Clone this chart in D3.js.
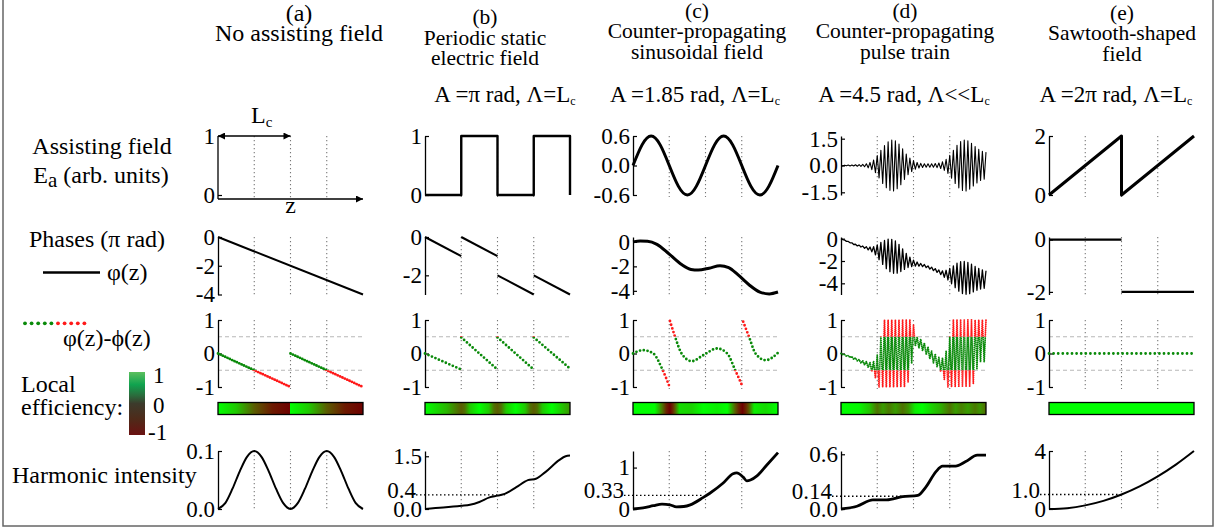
<!DOCTYPE html>
<html>
<head>
<meta charset="utf-8">
<script src="https://cdn.jsdelivr.net/npm/d3@7"></script>
<style>
  body { margin: 0; background: #fff; }
  text { font-family: "Liberation Serif", "Times New Roman", serif; }
</style>
</head>
<body>
<div id="app"></div>
<script>
// ---------- 数据 ----------
const panels = ['a', 'b', 'c', 'd', 'e'];
const titleLetters = ['(a)', '(b)', '(c)', '(d)', '(e)'];
const titleLines = [
  ['No assisting field'],
  ['Periodic static', 'electric field'],
  ['Counter-propagating', 'sinusoidal field'],
  ['Counter-propagating', 'pulse train'],
  ['Sawtooth-shaped', 'field']
];
const paramTexts = [null, 'A =π rad, Λ=L', 'A =1.85 rad, Λ=L', 'A =4.5 rad, Λ<<L', 'A =2π rad, Λ=L'];
const zGuides = [0.5, 1, 1.5];

// 辅助场 (row 1)
const fieldDomains = [[0, 1], [0, 1], [-0.6, 0.6], [-1.65, 1.65], [0, 2]];
const fieldTicks = [[0, 1], [0, 1], [-0.6, 0, 0.6], [-1.5, 0, 1.5], [0, 2]];
const fieldTickLabels = [['0', '1'], ['0', '1'], ['-0.6', '0.0', '0.6'], ['-1.5', '0.0', '1.5'], ['0', '2']];
const fieldB = [[0, 0], [0.5, 0], [0.5, 1], [1, 1], [1, 0], [1.5, 0], [1.5, 1], [2, 1], [2, 0]];
const fieldC = [[0, 0], [0.125, 0.42], [0.25, 0.6], [0.375, 0.42], [0.5, 0], [0.625, -0.42], [0.75, -0.6], [0.875, -0.42],
  [1, 0], [1.125, 0.42], [1.25, 0.6], [1.375, 0.42], [1.5, 0], [1.625, -0.42], [1.75, -0.6], [1.875, -0.42], [2, 0]];
const fieldE = [[0, 0], [1, 2], [1, 0], [2, 2]];
// pulse train: swing of each half-cycle extreme (z step 0.025)
const dz = 0.025;
const dFieldSwing = [0, .02, .02, .02, .03, .03, .03, .03, .04, .04,
  .05, .05, .06, .07, .1, .13, .17, .23, .31, .4,
  .55, .7, .85, 1.0, 1.12, 1.24, 1.33, 1.39, 1.42, 1.42,
  1.38, 1.3, 1.2, 1.07, .93, .78, .64, .52, .42, .34,
  .27, .21, .17, .14, .12, .11, .1, .1, .1, .1,
  .1, .1, .11, .12, .14, .17, .21, .27, .35, .45,
  .57, .71, .85, 1.0, 1.13, 1.25, 1.34, 1.4, 1.42, 1.42,
  1.38, 1.32, 1.24, 1.15, 1.06, .98, .9, .84, .8, .77, .75];

// 相位 (row 2)
const phaseDomains = [[-4, 0], [-3, 0], [-4.3, 0.4], [-5, 0.15], [-2.1, 0.1]];
const phaseTicks = [[-4, -2, 0], [-2, 0], [-4, -2, 0], [-4, -2, 0], [-2, 0]];
const phaseA = [[[0, 0], [2, -4]]];
const phaseB = [[[0, 0], [0.5, -1]], [[0.5, 0], [1, -1]], [[1, -2], [1.5, -3]], [[1.5, -2], [2, -3]]];
const phaseC = [[[0, 0], [0.1, 0.07], [0.2, 0.05], [0.33, -0.2], [0.5, -1.0], [0.67, -1.85], [0.8, -2.25], [0.9, -2.3],
  [1.05, -2.15], [1.2, -1.95], [1.32, -2.1], [1.45, -2.7], [1.6, -3.5], [1.75, -4.1], [1.88, -4.25], [2.0, -4.1]]];
const phaseE = [[[0, 0], [1, 0]], [[1, -2], [2, -2]]];
const dPhaseMid = [0, -.07, -.14, -.21, -.28, -.34, -.41, -.48, -.55, -.6,
  -.64, -.69, -.73, -.78, -.82, -.87, -.92, -.96, -1.01, -1.05,
  -1.1, -1.16, -1.21, -1.27, -1.33, -1.38, -1.44, -1.5, -1.55, -1.61,
  -1.66, -1.72, -1.77, -1.82, -1.88, -1.93, -1.98, -2.04, -2.09, -2.15,
  -2.2, -2.24, -2.27, -2.31, -2.35, -2.38, -2.42, -2.48, -2.55, -2.61,
  -2.67, -2.74, -2.81, -2.88, -2.96, -3.03, -3.11, -3.18, -3.2, -3.23,
  -3.26, -3.29, -3.32, -3.35, -3.38, -3.41, -3.44, -3.47, -3.5, -3.53,
  -3.55, -3.56, -3.57, -3.58, -3.59, -3.6, -3.61, -3.62, -3.63, -3.64, -3.65];
const dPhaseSwing = [0, .02, .02, .03, .03, .03, .04, .04, .05, .05,
  .06, .06, .07, .08, .1, .13, .17, .22, .3, .4,
  .55, .72, .88, 1.03, 1.17, 1.3, 1.4, 1.46, 1.49, 1.49,
  1.45, 1.37, 1.26, 1.12, .97, .82, .67, .54, .43, .35,
  .28, .22, .18, .15, .13, .12, .11, .11, .11, .12,
  .12, .12, .13, .14, .16, .19, .23, .29, .37, .47,
  .6, .75, .89, 1.04, 1.18, 1.29, 1.38, 1.44, 1.46, 1.45,
  1.42, 1.36, 1.28, 1.19, 1.1, 1.02, .95, .89, .84, .8, .78];

// 相位差 (row 3)
const diffA = [[[0, 0], [1, -1]], [[1, 0], [2, -1]]];
const diffB = [[[0, 0], [0.5, -0.48]], [[0.5, 0.48], [1, -0.48]], [[1, 0.48], [1.5, -0.48]], [[1.5, 0.48], [2, -0.45]]];
const diffC = [
  [[0, 0], [0.14, 0.1], [0.28, 0.0], [0.4, -0.45], [0.5, -0.97]],
  [[0.51, 0.97], [0.58, 0.5], [0.67, 0], [0.81, -0.23], [0.97, -0.05], [1.16, 0.15], [1.3, 0], [1.41, -0.5], [1.51, -0.98]],
  [[1.52, 0.95], [1.6, 0.5], [1.69, 0], [1.83, -0.2], [2.0, 0.02]]
];
const diffE = [[[0, 0], [2, 0]]];
const dDiffMid = [0, -.02, -.04, -.06, -.08, -.1, -.12, -.14, -.16, -.18,
  -.22, -.24, -.26, -.28, -.31, -.34, -.37, -.4, -.43, -.46,
  -.45, -.4, -.3, -.2, -.1, 0, 0, 0, 0, 0,
  0, 0, 0, .05, .1, .15, .2, .25, .3, .35,
  .4, .37, .34, .31, .28, .23, .17, .11, .05, -.01,
  -.07, -.12, -.17, -.23, -.29, -.34, -.38, -.42, -.43, -.4,
  -.35, -.25, -.15, -.05, 0, 0, 0, 0, 0, 0,
  0, 0, .05, .1, .2, .3, .35, .4, .4, .4, .4];
const dDiffSwing = [0, .01, .01, .02, .02, .02, .03, .03, .03, .04,
  .04, .05, .05, .06, .07, .08, .1, .14, .2, .28,
  .4, .6, .8, 1, 1.2, 1.3, 1.3, 1.3, 1.3, 1.3,
  1.3, 1.3, 1.3, 1.3, 1.3, 1.25, 1.2, 1.1, .9, .65,
  .45, .15, .15, .15, .15, .15, .15, .15, .15, .15,
  .15, .16, .16, .17, .18, .2, .25, .35, .5, .7,
  .85, 1, 1.15, 1.25, 1.3, 1.3, 1.3, 1.3, 1.3, 1.3,
  1.3, 1.25, 1.15, 1.0, .85, .75, .7, .65, .65, .65, .65];

// 局部效率 (color bars): [z, efficiency]
const effA = [[0, 1], [0.25, 0.7], [0.5, 0], [0.75, -0.7], [1, -1], [1, 1], [1.25, 0.7], [1.5, 0], [1.75, -0.7], [2, -1]];
const effB = [[0, 1], [0.3, 0.6], [0.45, 0.15], [0.5, 0], [0.55, 0.15], [0.62, 0.7], [0.75, 1], [0.88, 0.7], [0.95, 0.15], [1, 0],
  [1.05, 0.15], [1.12, 0.7], [1.25, 1], [1.38, 0.7], [1.45, 0.15], [1.5, 0], [1.55, 0.15], [1.62, 0.7], [1.75, 1], [1.88, 0.7], [2, 0.4]];
const effC = [[0, 1], [0.3, 0.99], [0.4, 0.2], [0.46, -0.6], [0.51, -1], [0.55, -0.5], [0.58, 0], [0.64, 0.8], [0.81, 0.75],
  [0.97, 1], [1.16, 0.9], [1.3, 1], [1.41, 0], [1.46, -0.6], [1.51, -1], [1.56, -0.5], [1.6, 0], [1.67, 0.9], [1.83, 0.8], [2, 1]];
const effD = [[0, 1], [0.25, 0.95], [0.4, 0.65], [0.5, 0.15], [0.58, 0.45], [0.66, 0.2], [0.75, 0.45], [0.85, 0.15], [0.93, 0.4],
  [1.02, 0.9], [1.12, 1], [1.25, 0.75], [1.38, 0.55], [1.5, 0.15], [1.58, 0.45], [1.66, 0.25], [1.75, 0.45], [1.85, 0.2], [1.92, 0.4], [2, 0.1]];
const effE = [[0, 1], [2, 1]];

// 谐波强度 (row 4)
const harmDomains = [[0, 0.1], [0, 1.65], [0, 1.4], [0, 0.636], [0, 4]];
const harmTicks = [[0, 0.1], [0, 1.5], [0, 1], [0, 0.6], [0, 4]];
const harmTickLabels = [['0.0', '0.1'], ['0.0', '1.5'], ['0', '1'], ['0.0', '0.6'], ['0', '4']];
const harmRefValue = [null, 0.4, 0.33, 0.14, 1.0];
const harmRefLabel = [null, '0.4', '0.33', '0.14', '1.0'];
const harmRefCross = [null, 1.1, 0.95, 1.05, 0.96];
const harmA = [[0, 0], [0.1, 0.01], [0.2, 0.035], [0.3, 0.065], [0.4, 0.09], [0.5, 0.1], [0.6, 0.09], [0.7, 0.065], [0.8, 0.035], [0.9, 0.01],
  [1, 0], [1.1, 0.01], [1.2, 0.035], [1.3, 0.065], [1.4, 0.09], [1.5, 0.1], [1.6, 0.09], [1.7, 0.065], [1.8, 0.035], [1.9, 0.01], [2, 0]];
const harmB = [[0, 0], [0.25, 0.04], [0.5, 0.09], [0.62, 0.12], [0.75, 0.2], [0.89, 0.33], [1.0, 0.38], [1.1, 0.43], [1.26, 0.62],
  [1.42, 0.82], [1.53, 0.86], [1.66, 1.05], [1.85, 1.39], [1.94, 1.5], [2.0, 1.52]];
const harmC = [[0, 0], [0.14, 0.03], [0.28, 0.08], [0.4, 0.12], [0.51, 0.1], [0.6, 0.05], [0.7, 0.06], [0.79, 0.1], [0.97, 0.28],
  [1.06, 0.38], [1.24, 0.62], [1.38, 0.85], [1.43, 0.87], [1.52, 0.77], [1.57, 0.68], [1.62, 0.7], [1.71, 0.8], [1.84, 1.05], [2.0, 1.36]];
const harmD = [[0, 0], [0.22, 0.03], [0.44, 0.1], [0.63, 0.1], [0.85, 0.135], [1.06, 0.15], [1.17, 0.24], [1.31, 0.41], [1.4, 0.47],
  [1.58, 0.47], [1.72, 0.52], [1.88, 0.59], [2.0, 0.59]];
const harmE = [[0, 0], [0.25, 0.06], [0.5, 0.25], [0.75, 0.56], [1, 1], [1.25, 1.56], [1.5, 2.25], [1.75, 3.06], [2, 4]];

// ---------- 画布 ----------
const width = 1230, height = 531;
const panelX = [218, 425, 633, 841, 1049];
const panelW = 145;
const rowField = [195, 136], rowPhase = [294.5, 237], rowDiff = [387, 320], rowBar = [402.5, 414.5], rowHarm = [509, 451];
const serif = '"Liberation Serif", "Times New Roman", serif';
const labelSize = 24, tickSize = 23;

const svg = d3.select('#app').append('svg')
  .attr('width', width)
  .attr('height', height)
  .attr('font-family', serif)
  .style('display', 'block');
const defs = svg.append('defs');

// 外框
svg.append('rect')
  .attr('x', 3).attr('y', -2).attr('width', 1210).attr('height', 528)
  .attr('fill', 'none').attr('stroke', '#666').attr('stroke-width', 1.5);

// 颜色比例尺
const effColor = d3.scaleLinear()
  .domain([-1, -0.5, 0, 0.5, 1])
  .range(['#6e0000', '#6a2a00', '#5a5c00', '#33a300', '#00ff00']);

// 箭头
defs.append('marker')
  .attr('id', 'arrow').attr('viewBox', '0 0 10 10').attr('refX', 10).attr('refY', 5)
  .attr('markerUnits', 'userSpaceOnUse').attr('markerWidth', 10).attr('markerHeight', 7)
  .attr('orient', 'auto-start-reverse')
  .append('path').attr('d', 'M0,0 L10,5 L0,10 z').attr('fill', '#000');

// 相位差颜色裁剪
const yDiffShared = d3.scaleLinear().domain([-1, 1]).range(rowDiff);
defs.append('clipPath').attr('id', 'clip-green')
  .append('rect').attr('x', 0).attr('width', width)
  .attr('y', yDiffShared(0.5)).attr('height', yDiffShared(-0.5) - yDiffShared(0.5));
const clipRed = defs.append('clipPath').attr('id', 'clip-red');
clipRed.append('rect').attr('x', 0).attr('width', width).attr('y', 300).attr('height', yDiffShared(0.5) - 300);
clipRed.append('rect').attr('x', 0).attr('width', width).attr('y', yDiffShared(-0.5)).attr('height', 400 - yDiffShared(-0.5));

// ---------- 工具函数 ----------
function drawAxis(x0, y, ticks, labels) {
  const ax = d3.axisLeft(y)
    .tickValues(ticks)
    .tickFormat((d, i) => labels[i])
    .tickSizeInner(-4)
    .tickSizeOuter(0)
    .tickPadding(3);
  const a = svg.append('g').attr('transform', `translate(${x0},0)`).call(ax);
  a.attr('font-family', serif).attr('font-size', tickSize);
  a.select('.domain').attr('stroke', '#000').attr('stroke-width', 1.3);
  a.selectAll('.tick line').attr('stroke', '#000').attr('stroke-width', 1.2);
  a.selectAll('.tick text').attr('fill', '#000');
  return a;
}

function drawGuides(x, yRange) {
  svg.append('g').selectAll('line')
    .data(zGuides)
    .join('line')
    .attr('x1', d => x(d)).attr('x2', d => x(d))
    .attr('y1', yRange[1]).attr('y2', yRange[0] + 2)
    .attr('stroke', '#777').attr('stroke-width', 1.1)
    .attr('stroke-dasharray', '1.3 2.7');
}

function drawLines(segs, x, y, sw, curve) {
  const line = d3.line().x(d => x(d[0])).y(d => y(d[1])).curve(curve || d3.curveLinear);
  svg.append('g').selectAll('path')
    .data(segs)
    .join('path')
    .attr('d', line)
    .attr('fill', 'none').attr('stroke', '#000')
    .attr('stroke-width', sw).attr('stroke-linejoin', 'round');
}

function drawDots(segs, x, y, spacing, sw, curve) {
  const line = d3.line().x(d => x(d[0])).y(d => y(d[1])).curve(curve || d3.curveLinear);
  [['green', '#0a8a0a'], ['red', '#ff1a1a']].forEach(([id, col]) => {
    svg.append('g').attr('clip-path', `url(#clip-${id})`)
      .selectAll('path')
      .data(segs)
      .join('path')
      .attr('d', line)
      .attr('fill', 'none').attr('stroke', col)
      .attr('stroke-width', sw).attr('stroke-linecap', 'round')
      .attr('stroke-dasharray', `0 ${spacing}`);
  });
}

// 脉冲串: 交替的极值点
const zigzag = (mid, swing, clamp) => swing.map((s, k) => {
  let v = (mid ? mid[k] : 0) + (k % 2 ? -s : s);
  if (clamp) v = Math.max(-1, Math.min(1, v));
  return [k * dz, v];
});

// ---------- 标题 ----------
const titleX = [299, 485, 697, 905, 1122];
const titleTop = [20.5, 24, 17.5, 17.5, 19.5];
const titleSize = [24, 21.5, 21.5, 21.5, 21.5];
panels.forEach((p, i) => {
  const t = svg.append('text').attr('text-anchor', 'middle').attr('font-size', titleSize[i]).attr('fill', '#000');
  [titleLetters[i]].concat(titleLines[i]).forEach((s, j) => {
    t.append('tspan').attr('x', titleX[i]).attr('y', titleTop[i] + j * 20.5).text(s);
  });
});
const paramX = [null, 505, 695, 904, 1116];
paramTexts.forEach((s, i) => {
  if (!s) return;
  const t = svg.append('text').attr('x', paramX[i]).attr('y', 101.5)
    .attr('text-anchor', 'middle').attr('font-size', 23).attr('fill', '#000');
  t.append('tspan').text(s);
  t.append('tspan').attr('font-size', 12).attr('dy', 3).text('c');
});

// ---------- 左侧标签 ----------
svg.append('text').attr('x', 102).attr('y', 154).attr('text-anchor', 'middle').attr('font-size', labelSize).text('Assisting field');
const ea = svg.append('text').attr('x', 101).attr('y', 183).attr('text-anchor', 'middle').attr('font-size', labelSize);
ea.append('tspan').text('E');
ea.append('tspan').attr('dy', 4).attr('font-size', 21).text('a');
ea.append('tspan').attr('dy', -4).text(' (arb. units)');
svg.append('text').attr('x', 97).attr('y', 247).attr('text-anchor', 'middle').attr('font-size', labelSize).text('Phases (π rad)');
svg.append('line').attr('x1', 43).attr('x2', 100).attr('y1', 272.5).attr('y2', 272.5).attr('stroke', '#000').attr('stroke-width', 2.4);
svg.append('text').attr('x', 107).attr('y', 280).attr('font-size', labelSize).text('φ(z)');
svg.append('g').selectAll('circle')
  .data(d3.range(10))
  .join('circle')
  .attr('cx', d => 25 + d * 6.6).attr('cy', 323.3).attr('r', 1.9)
  .attr('fill', d => d < 5 ? '#0a8a0a' : '#ff1a1a');
svg.append('text').attr('x', 63).attr('y', 346).attr('font-size', labelSize).text('φ(z)-ϕ(z)');
svg.append('text').attr('x', 21).attr('y', 392).attr('font-size', labelSize).text('Local');
svg.append('text').attr('x', 21).attr('y', 415).attr('font-size', labelSize).text('efficiency:');
svg.append('text').attr('x', 12).attr('y', 483).attr('font-size', labelSize).text('Harmonic intensity');

// 色标图例
const legendStops = [[1, '#5cbf5e'], [0.6, '#10a34f'], [0.25, '#2b6b3c'], [0, '#3c3b2c'], [-0.5, '#4f2a19'], [-1, '#6b1111']];
const lg = defs.append('linearGradient').attr('id', 'legend-grad').attr('x1', 0).attr('y1', 0).attr('x2', 0).attr('y2', 1);
lg.selectAll('stop').data(legendStops).join('stop')
  .attr('offset', d => (1 - d[0]) / 2).attr('stop-color', d => d[1]);
svg.append('rect').attr('x', 129).attr('y', 372).attr('width', 16).attr('height', 63).attr('fill', 'url(#legend-grad)');
svg.append('text').attr('x', 153).attr('y', 383).attr('font-size', tickSize).text('1');
svg.append('text').attr('x', 153).attr('y', 413).attr('font-size', tickSize).text('0');
svg.append('text').attr('x', 148).attr('y', 440).attr('font-size', tickSize).text('-1');

// ---------- 各面板 ----------
const fieldData = [null, [fieldB], [fieldC], [zigzag(null, dFieldSwing)], [fieldE]];
const fieldWidth = [0, 2.4, 3, 1.1, 3];
const phaseData = [phaseA, phaseB, phaseC, [zigzag(dPhaseMid, dPhaseSwing)], phaseE];
const phaseWidth = [2, 2, 3, 1.3, 2.2];
const diffData = [diffA, diffB, diffC, [zigzag(dDiffMid, dDiffSwing, true)], diffE];
const dotSpacing = [2.6, 3.8, 3.8, 2.0, 4.6];
const dotWidth = [2.8, 2.8, 2.8, 1.9, 2.8];
const effData = [effA, effB, effC, effD, effE];
const harmData = [harmA, harmB, harmC, harmD, harmE];
const harmWidth = [2, 2, 2.8, 2.8, 2];

panels.forEach((p, i) => {
  const x0 = panelX[i];
  const x = d3.scaleLinear().domain([0, 2]).range([x0, x0 + panelW]);

  // row 1: 辅助场
  const yF = d3.scaleLinear().domain(fieldDomains[i]).range(rowField);
  drawGuides(x, [rowField[0] + (i === 0 ? 2 : 0), rowField[1]]);
  if (i === 0) {
    const a = drawAxis(x0, yF, fieldTicks[i], fieldTickLabels[i]);
    a.select('.domain').remove();
    svg.append('line').attr('x1', x0).attr('x2', x0).attr('y1', rowField[1]).attr('y2', rowField[0] + 4)
      .attr('stroke', '#000').attr('stroke-width', 1.3);
    svg.append('line').attr('x1', x0).attr('x2', x0 + panelW).attr('y1', rowField[0] + 4).attr('y2', rowField[0] + 4)
      .attr('stroke', '#000').attr('stroke-width', 1.3).attr('marker-end', 'url(#arrow)');
    svg.append('text').attr('x', x(1)).attr('y', 213).attr('text-anchor', 'middle').attr('font-size', labelSize).text('z');
    svg.append('line').attr('x1', x(0)).attr('x2', x(1)).attr('y1', rowField[1]).attr('y2', rowField[1])
      .attr('stroke', '#000').attr('stroke-width', 1.3)
      .attr('marker-start', 'url(#arrow)').attr('marker-end', 'url(#arrow)');
    const lc = svg.append('text').attr('x', 251).attr('y', 123).attr('font-size', labelSize);
    lc.append('tspan').text('L');
    lc.append('tspan').attr('font-size', 15).attr('dy', 4).text('c');
  } else {
    drawAxis(x0, yF, fieldTicks[i], fieldTickLabels[i]);
    drawLines(fieldData[i], x, yF, fieldWidth[i], i === 2 ? d3.curveNatural : d3.curveLinear);
  }

  // row 2: 相位
  const yP = d3.scaleLinear().domain(phaseDomains[i]).range(rowPhase);
  drawGuides(x, rowPhase);
  drawAxis(x0, yP, phaseTicks[i], phaseTicks[i].map(String));
  drawLines(phaseData[i], x, yP, phaseWidth[i], i === 2 ? d3.curveMonotoneX : d3.curveLinear);

  // row 3: 相位差
  const yD = d3.scaleLinear().domain([-1, 1]).range(rowDiff);
  drawGuides(x, rowDiff);
  svg.append('g').selectAll('line')
    .data([0.5, -0.5])
    .join('line')
    .attr('x1', x0).attr('x2', x0 + panelW)
    .attr('y1', d => yD(d)).attr('y2', d => yD(d))
    .attr('stroke', '#b8b8b8').attr('stroke-width', 1.1).attr('stroke-dasharray', '4 3');
  drawAxis(x0, yD, [-1, 0, 1], ['-1', '0', '1']);
  drawDots(diffData[i], x, yD, dotSpacing[i], dotWidth[i], i === 2 ? d3.curveMonotoneX : d3.curveLinear);

  // 色条
  const grad = defs.append('linearGradient').attr('id', `eff-${p}`)
    .attr('x1', 0).attr('y1', 0).attr('x2', 1).attr('y2', 0);
  grad.selectAll('stop').data(effData[i]).join('stop')
    .attr('offset', d => d[0] / 2)
    .attr('stop-color', d => effColor(d[1]));
  svg.append('rect')
    .attr('x', x0).attr('y', rowBar[0]).attr('width', panelW).attr('height', rowBar[1] - rowBar[0])
    .attr('fill', `url(#eff-${p})`).attr('stroke', '#000').attr('stroke-width', 1.3);

  // row 4: 谐波强度
  const yH = d3.scaleLinear().domain(harmDomains[i]).range(rowHarm);
  drawGuides(x, rowHarm);
  drawAxis(x0, yH, harmTicks[i], harmTickLabels[i]);
  if (harmRefValue[i] !== null) {
    const yr = yH(harmRefValue[i]);
    svg.append('line').attr('x1', x0 - 9).attr('x2', x(harmRefCross[i]))
      .attr('y1', yr).attr('y2', yr)
      .attr('stroke', '#000').attr('stroke-width', 1.3).attr('stroke-dasharray', '1.5 2.5');
    svg.append('text').attr('x', x0 - 9).attr('y', yr + 3)
      .attr('text-anchor', 'end').attr('font-size', tickSize).text(harmRefLabel[i]);
  }
  drawLines([harmData[i]], x, yH, harmWidth[i], d3.curveMonotoneX);
});
</script>
</body>
</html>
